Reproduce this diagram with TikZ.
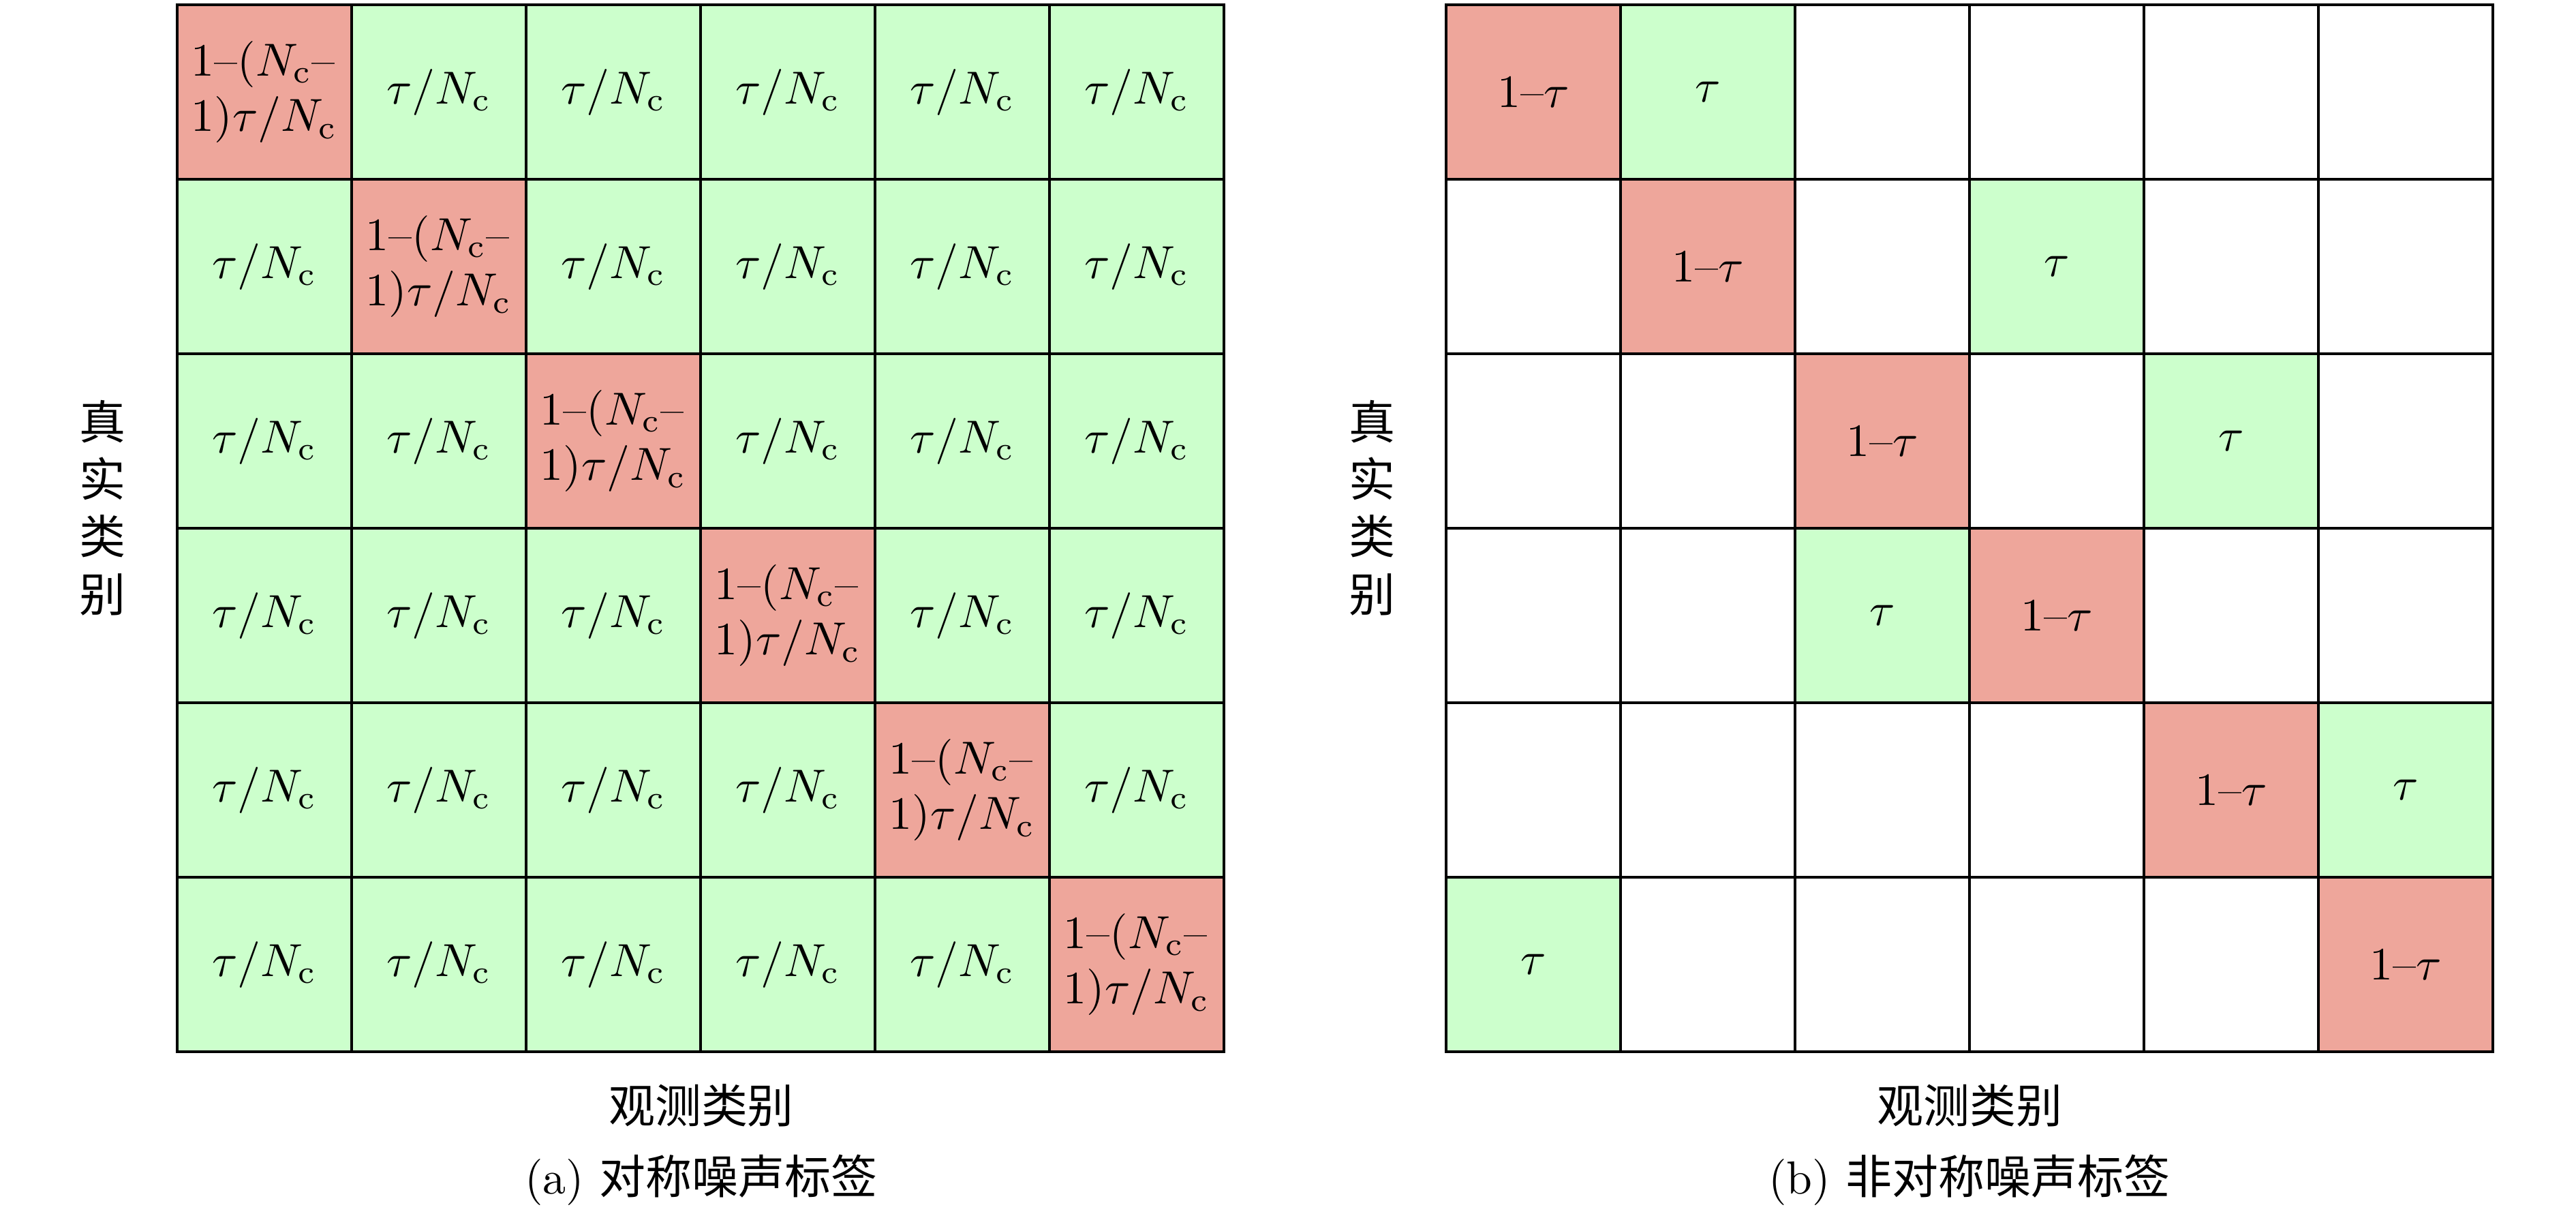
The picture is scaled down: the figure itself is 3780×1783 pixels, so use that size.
\documentclass[tikz,border=0pt]{standalone}
\usepackage{fontspec}
\newfontfamily\cjk{Noto Sans CJK SC}
\definecolor{cellred}{RGB}{238,166,155}
\definecolor{cellgreen}{RGB}{204,255,204}
\begin{document}
\begin{tikzpicture}[x=0.147059pt,y=-0.147059pt,
  cell/.style={draw=black,line width=0.55pt,minimum size=37.647pt,inner sep=0pt,outer sep=0pt,font=\fontsize{10}{12}\selectfont},
  lab/.style={inner sep=0pt,font=\fontsize{10}{12.4}\selectfont}]
\useasboundingbox (0,0) rectangle (3780,1783);
% (a) symmetric
\foreach \rw in {0,...,5}{
  \foreach \col in {0,...,5}{
    \ifnum\rw=\col
      \node[cell,fill=cellred,align=left] (a-\rw-\col) at ({388+256*\col},{135+256*\rw}) {1--($N_\mathrm{c}$--\\1)$\tau/N_\mathrm{c}$};
    \else
      \node[cell,fill=cellgreen] (a-\rw-\col) at ({388+256*\col},{135+256*\rw}) {$\tau/N_\mathrm{c}$};
    \fi
  }
}
% (b) asymmetric
\foreach \rw/\row in {0/{R,G,W,W,W,W},1/{W,R,W,G,W,W},2/{W,W,R,W,G,W},3/{W,W,G,R,W,W},4/{W,W,W,W,R,G},5/{G,W,W,W,W,R}}{
  \foreach \t [count=\col from 0] in \row {
    \if R\t \def\cfill{cellred}\def\ctext{1--$\tau$}\fi
    \if G\t \def\cfill{cellgreen}\def\ctext{$\tau$}\fi
    \if W\t \def\cfill{white}\def\ctext{}\fi
    \node[cell,fill=\cfill] (b-\rw-\col) at ({2250+256*\col},{135+256*\rw}) {\ctext};
  }
}
% labels
\node[lab,align=center,font=\cjk\fontsize{10}{12.4}\selectfont] (a-ylab) at (150,745) {真\\实\\类\\别};
\node[lab,align=center,font=\cjk\fontsize{10}{12.4}\selectfont] (b-ylab) at (2013,745) {真\\实\\类\\别};
\node[lab,font=\cjk\fontsize{10}{12}\selectfont] (a-xlab) at (1029,1622) {观测类别};
\node[lab,font=\cjk\fontsize{10}{12}\selectfont] (b-xlab) at (2890,1622) {观测类别};
\node[lab] (a-cap) at (1029,1731) {(a) {\cjk 对称噪声标签}};
\node[lab] (b-cap) at (2890,1731) {(b) {\cjk 非对称噪声标签}};
\end{tikzpicture}
\end{document}
